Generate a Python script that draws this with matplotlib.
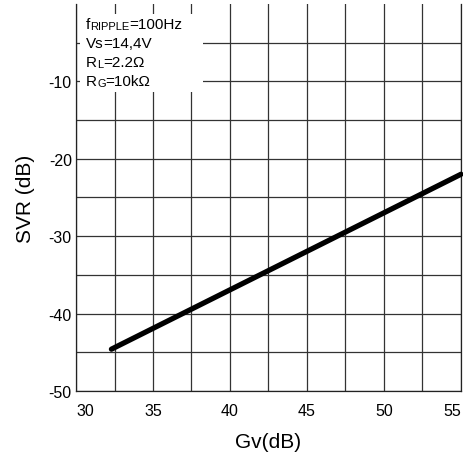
import matplotlib
matplotlib.use("Agg")
import matplotlib.pyplot as plt
from matplotlib.patches import Rectangle

plt.rcParams['font.family'] = ['Liberation Sans', 'DejaVu Sans']

gv = [32.3, 55.0]
svr = [-44.6, -22.0]
xticks = [30, 35, 40, 45, 50, 55]
yticks = [-50, -40, -30, -20, -10]
notes = [
    [("f", 11), ("RIPPLE", 8), ("=100Hz", 11)],
    [("Vs", 11), ("=14,4V", 11)],
    [("R", 11), ("L", 8), ("=2.2\u03a9", 11)],
    [("R", 11), ("G", 8), ("=10k\u03a9", 11)],
]

fig = plt.figure(figsize=(4.64, 4.56), dpi=100)
ax = fig.add_axes([0.1638, 0.1404, 0.8297, 0.8487])

ax.set_xlim(30, 55)
ax.set_ylim(-50, 0)
ax.set_xticks(xticks)
ax.set_yticks(yticks)
ax.set_xticks([32.5 + 5 * i for i in range(5)], minor=True)
ax.set_yticks([-45 + 5 * i for i in range(0, 10, 2)], minor=True)
ax.grid(True, which='both', color='#333333', linewidth=0.9)
ax.tick_params(which='both', length=0)
ax.set_xticklabels([str(t) for t in xticks], fontsize=11.5)
ax.set_yticklabels([str(t) for t in yticks], fontsize=11.5)
lbls = ax.get_xticklabels()
lbls[0].set_ha('left')
lbls[-1].set_ha('right')
ax.tick_params(axis='x', which='major', pad=9)
ax.tick_params(axis='y', which='major', pad=3)
for s in ax.spines.values():
    s.set_linewidth(0.9)
    s.set_color('#222222')
ax.spines['top'].set_visible(False)

ax.plot(gv, svr, color='black', linewidth=3.8, solid_capstyle='round', zorder=3,
        clip_on=False)

ax.add_patch(Rectangle((0.01, 0.773), 0.32, 0.201, transform=ax.transAxes,
                       facecolor='white', edgecolor='none', zorder=2.5))

y0 = 0.937
for i, parts in enumerate(notes):
    prev = None
    for txt, fs in parts:
        if prev is None:
            prev = ax.text(0.026, y0 - i * 0.049, txt, fontsize=fs, transform=ax.transAxes,
                           va='baseline', ha='left', zorder=4)
        else:
            prev = ax.annotate(txt, xy=(1, 0), xycoords=prev, fontsize=fs,
                               va='bottom', ha='left', zorder=4)

ax.set_xlabel('Gv(dB)', fontsize=15, labelpad=10)
ax.set_ylabel('SVR (dB)', fontsize=15, labelpad=10)

fig.savefig('out.png', dpi=100)
